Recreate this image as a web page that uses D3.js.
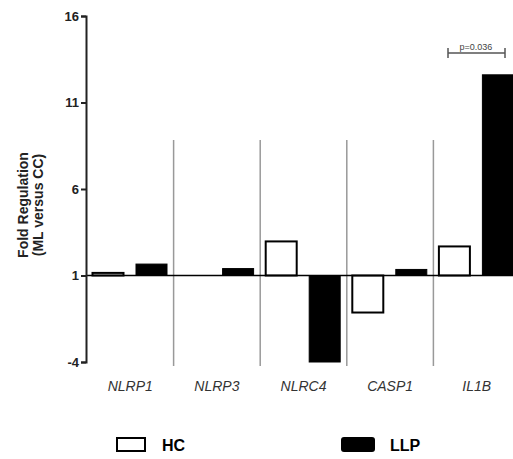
<!DOCTYPE html>
<html>
<head>
<meta charset="utf-8">
<script src="https://cdn.jsdelivr.net/npm/d3@7"></script>
<style>
  body { margin: 0; background: #fff; }
  text { font-family: Arial, "Liberation Sans", sans-serif; }
</style>
</head>
<body>
<div class="canvas"></div>
<script>
const genes = ["NLRP1", "NLRP3", "NLRC4", "CASP1", "IL1B"];
const hcValues = [1.15, 1.0, 2.97, -1.14, 2.68];
const llpValues = [1.66, 1.4, -4.0, 1.35, 12.6];
const yTicks = [-4, 1, 6, 11, 16];
const seriesNames = ["HC", "LLP"];

const dims = { width: 513, height: 459 };
const baseline = 1;

const svg = d3.select(".canvas")
    .append("svg")
    .attr("width", dims.width)
    .attr("height", dims.height);

const y = d3.scaleLinear().domain([-4, 16]).range([362, 16]);
const x = d3.scaleBand().domain(genes).range([87, 87 + 5 * 86.6]);

// separators between genes
svg.append("g")
    .selectAll("line")
    .data(genes.slice(1))
    .join("line")
    .attr("x1", d => x(d))
    .attr("x2", d => x(d))
    .attr("y1", 140)
    .attr("y2", 366)
    .attr("stroke", "#999")
    .attr("stroke-width", 1.5);

// bars
const barW = 31;
const bars = svg.append("g");
genes.forEach((g, i) => {
    const hv = hcValues[i], lv = llpValues[i];
    bars.append("rect")
        .attr("x", x(g) + 5.5)
        .attr("y", y(Math.max(hv, baseline)))
        .attr("width", barW)
        .attr("height", Math.abs(y(hv) - y(baseline)))
        .attr("fill", "#fff")
        .attr("stroke", "#000")
        .attr("stroke-width", 2);
    bars.append("rect")
        .attr("x", x(g) + 49)
        .attr("y", y(Math.max(lv, baseline)))
        .attr("width", barW)
        .attr("height", Math.abs(y(lv) - y(baseline)))
        .attr("fill", "#000")
        .attr("stroke", "#000")
        .attr("stroke-width", 1);
});

// baseline at 1
svg.append("line")
    .attr("x1", 86)
    .attr("x2", dims.width)
    .attr("y1", y(baseline))
    .attr("y2", y(baseline))
    .attr("stroke", "#000")
    .attr("stroke-width", 1.5);

// y axis
const yAxis = d3.axisLeft(y)
    .tickValues(yTicks)
    .tickFormat(d => String(d))
    .tickSize(5)
    .tickSizeOuter(5);
const ga = svg.append("g")
    .attr("transform", "translate(86,0)")
    .call(yAxis);
ga.select(".domain").attr("stroke", "#222").attr("stroke-width", 2);
ga.selectAll(".tick line").attr("stroke", "#222").attr("stroke-width", 2);
ga.selectAll(".tick text")
    .attr("font-size", 13)
    .attr("font-weight", "bold")
    .attr("fill", "#222")
    .attr("x", -7)
    .attr("font-family", "Arial, 'Liberation Sans', sans-serif");

// y title
const yt = svg.append("text")
    .attr("transform", "translate(28,205) rotate(-90)")
    .attr("text-anchor", "middle")
    .attr("font-size", 14)
    .attr("font-weight", "bold")
    .attr("fill", "#222");
yt.append("tspan").attr("x", 0).attr("dy", 0).text("Fold Regulation");
yt.append("tspan").attr("x", 0).attr("dy", 15).text("(ML versus CC)");

// x labels
svg.append("g")
    .selectAll("text")
    .data(genes)
    .join("text")
    .attr("x", d => x(d) + x.bandwidth() / 2)
    .attr("y", 391)
    .attr("text-anchor", "middle")
    .attr("font-size", 14)
    .attr("font-style", "italic")
    .attr("fill", "#333")
    .text(d => d);

// significance bracket
const br = svg.append("g").attr("stroke", "#555").attr("stroke-width", 1.5);
br.append("line").attr("x1", 448).attr("x2", 505).attr("y1", 53).attr("y2", 53);
br.append("line").attr("x1", 448).attr("x2", 448).attr("y1", 48).attr("y2", 58);
br.append("line").attr("x1", 505).attr("x2", 505).attr("y1", 48).attr("y2", 58);
svg.append("text")
    .attr("x", 476)
    .attr("y", 50)
    .attr("text-anchor", "middle")
    .attr("font-size", 9)
    .attr("fill", "#444")
    .text("p=0.036");

// legend
const legend = svg.append("g");
legend.append("rect")
    .attr("x", 117).attr("y", 438).attr("width", 28).attr("height", 13)
    .attr("fill", "#fff").attr("stroke", "#000").attr("stroke-width", 2);
legend.append("text")
    .attr("x", 162).attr("y", 451)
    .attr("font-size", 16).attr("font-weight", "bold").attr("fill", "#000")
    .text(seriesNames[0]);
legend.append("rect")
    .attr("x", 341).attr("y", 437).attr("width", 34).attr("height", 15).attr("rx", 3)
    .attr("fill", "#000");
legend.append("text")
    .attr("x", 390).attr("y", 451)
    .attr("font-size", 16).attr("font-weight", "bold").attr("fill", "#000")
    .text(seriesNames[1]);
</script>
</body>
</html>
